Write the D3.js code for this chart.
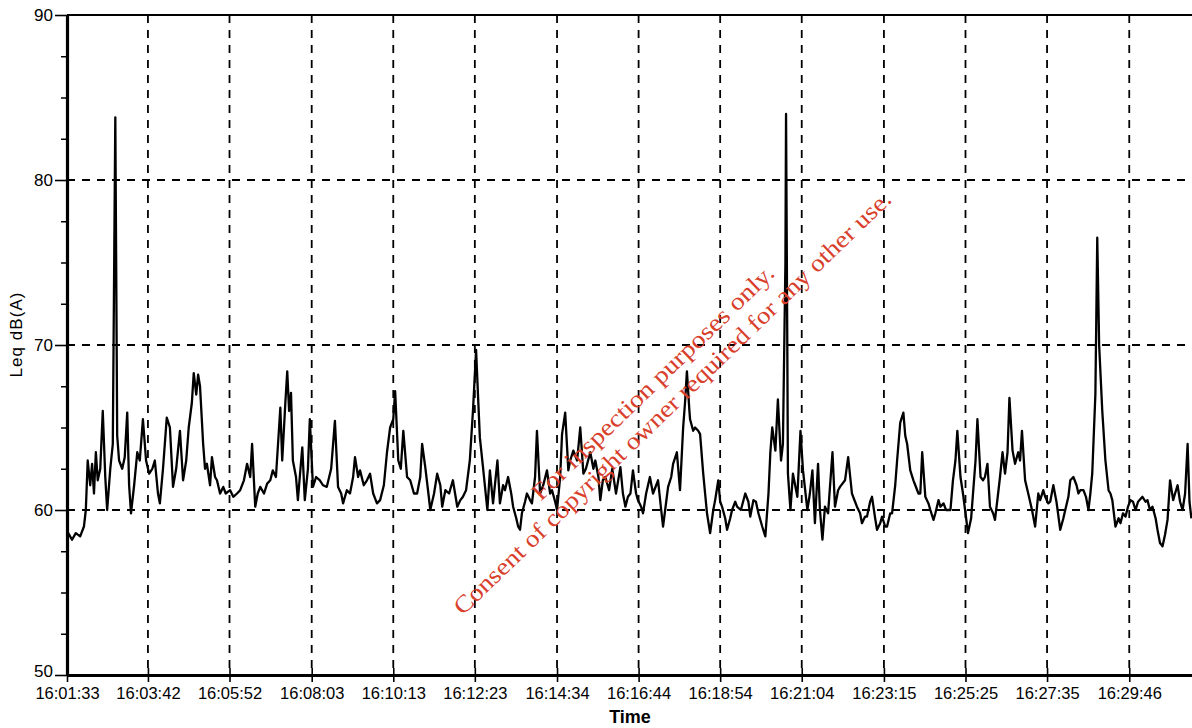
<!DOCTYPE html>
<html>
<head>
<meta charset="utf-8">
<script src="https://cdn.jsdelivr.net/npm/d3@7"></script>
<style>
  html, body { margin: 0; padding: 0; background: #fff; }
  svg { display: block; }
</style>
</head>
<body>
<svg id="chart" width="1192" height="728"></svg>
<script>
// ---- DATA (elapsed seconds since 16:01:33, Leq dB(A)) ----
const tickSeconds = [0, 129, 259, 390, 520, 650, 781, 911, 1041, 1171, 1302, 1432, 1562, 1693];
const tickLabels = ["16:01:33", "16:03:42", "16:05:52", "16:08:03", "16:10:13", "16:12:23", "16:14:34",
                    "16:16:44", "16:18:54", "16:21:04", "16:23:15", "16:25:25", "16:27:35", "16:29:46"];
const yMajorTicks = [50, 60, 70, 80, 90];
const yMinorTicks = [52.5, 55, 57.5, 62.5, 65, 67.5, 72.5, 75, 77.5, 82.5, 85, 87.5];
const yGridValues = [60, 70, 80];
const leqReadings = [
[2,58.6],[8,58.2],[14,58.6],[21,58.4],[27,59.0],[30,60.0],[33,63.0],[37,61.5],[40,62.8],[43,61.0],
[46,63.5],[49,61.8],[53,62.5],[57,66.0],[61,62.0],[64,60.0],[69,62.5],[73,64.0],[77,83.8],[80,64.5],
[83,63.0],[88,62.5],[92,63.2],[96,65.9],[99,61.5],[102,59.8],[107,61.5],[112,63.5],[116,63.0],[121,65.5],
[126,63.0],[131,62.2],[136,62.5],[140,63.0],[145,61.0],[148,60.4],[153,62.5],[159,65.6],[164,65.0],[169,61.4],
[174,62.5],[180,64.8],[185,61.8],[190,63.0],[194,65.0],[199,66.5],[202,68.3],[206,67.0],[209,68.2],[212,67.5],
[217,64.0],[220,62.5],[223,62.8],[228,61.5],[231,63.2],[236,62.0],[239,61.8],[244,61.0],[249,61.4],[253,61.0],
[260,61.2],[265,60.8],[271,61.0],[276,61.2],[282,61.8],[287,62.8],[292,62.0],[295,64.0],[300,60.2],[304,61.0],
[308,61.4],[314,61.0],[319,61.6],[324,61.8],[328,62.4],[333,62.0],[340,66.2],[343,63.0],[348,66.5],[351,68.4],
[354,66.0],[357,67.1],[360,63.0],[365,62.0],[368,60.6],[371,62.0],[375,63.8],[379,60.6],[384,62.5],[387,65.5],
[392,61.4],[397,62.0],[403,61.8],[408,61.5],[414,61.4],[421,62.5],[427,65.4],[432,61.4],[437,61.0],[440,60.4],
[446,61.2],[451,61.0],[456,62.0],[459,63.2],[464,62.0],[467,62.4],[473,61.5],[478,61.8],[483,62.2],[488,61.0],
[494,60.4],[499,60.6],[505,61.5],[510,63.5],[515,65.0],[520,65.5],[523,67.2],[528,63.0],[532,62.5],[536,64.8],
[542,62.0],[547,61.8],[553,61.0],[558,61.0],[563,62.0],[566,64.0],[571,62.6],[576,61.0],[579,60.0],[585,61.0],
[590,62.2],[595,61.5],[598,60.2],[603,61.2],[609,61.0],[615,61.8],[622,60.2],[627,60.6],[631,60.8],[636,61.2],
[642,63.0],[647,66.0],[652,69.7],[655,67.0],[658,64.4],[663,62.6],[670,60.0],[674,62.4],[679,60.4],[686,63.0],
[690,60.4],[695,61.5],[698,61.2],[703,62.0],[708,61.0],[711,60.2],[716,59.5],[719,59.0],[722,58.8],[725,59.8],
[730,60.5],[733,61.0],[738,60.6],[741,60.4],[746,62.0],[749,64.8],[754,61.0],[759,61.5],[765,62.4],[770,61.0],
[773,61.2],[778,60.5],[781,60.0],[786,62.0],[789,64.6],[794,65.9],[799,62.4],[802,63.0],[807,63.6],[813,63.0],
[818,65.0],[823,62.2],[827,62.5],[834,63.5],[839,62.5],[842,63.0],[847,62.0],[850,60.6],[854,61.8],[858,62.0],
[864,61.2],[869,62.5],[875,61.0],[882,62.6],[886,61.0],[890,60.2],[894,60.8],[898,61.0],[902,62.4],[907,61.0],
[910,60.6],[915,60.2],[918,59.8],[923,61.0],[929,62.0],[934,61.0],[939,61.5],[942,61.8],[947,60.0],[950,59.0],
[955,60.5],[958,61.4],[963,62.0],[966,62.8],[972,63.5],[977,61.2],[982,65.0],[985,66.5],[988,68.4],[992,66.0],
[993,65.5],[998,64.8],[1001,65.0],[1006,64.8],[1009,64.6],[1014,62.2],[1017,61.0],[1020,59.8],[1025,58.6],[1030,60.0],
[1033,60.6],[1038,61.8],[1041,60.5],[1044,60.2],[1049,59.5],[1052,58.8],[1057,59.5],[1060,60.0],[1065,60.5],[1068,60.2],
[1074,60.0],[1081,61.0],[1086,60.5],[1089,59.6],[1094,60.6],[1098,60.5],[1102,59.8],[1108,59.0],[1113,58.4],[1118,61.0],
[1121,63.5],[1124,65.0],[1129,63.6],[1133,66.7],[1138,63.0],[1141,64.0],[1145,75.0],[1146,84.0],[1148,70.0],[1149,62.2],
[1153,60.0],[1157,62.2],[1164,60.8],[1169,64.8],[1173,62.4],[1180,60.0],[1184,61.0],[1188,62.4],[1192,59.2],[1197,62.8],
[1200,60.0],[1204,58.2],[1208,60.2],[1213,59.8],[1220,63.5],[1224,60.2],[1229,61.2],[1232,61.4],[1240,61.8],[1245,63.2],
[1251,61.0],[1256,60.5],[1259,60.2],[1264,59.8],[1267,59.2],[1272,59.6],[1275,59.6],[1280,60.5],[1283,60.8],[1288,59.5],
[1291,58.8],[1296,59.2],[1299,59.6],[1304,59.0],[1307,59.0],[1312,59.8],[1315,59.8],[1320,61.5],[1323,63.0],[1328,65.3],
[1333,65.9],[1336,64.5],[1339,64.0],[1344,62.4],[1349,61.8],[1352,61.5],[1357,61.0],[1360,61.0],[1363,63.5],[1368,60.8],
[1373,60.4],[1376,60.0],[1381,59.4],[1384,59.8],[1389,60.6],[1392,60.2],[1397,60.4],[1401,60.0],[1408,60.0],[1412,61.8],
[1416,63.0],[1419,64.8],[1424,62.0],[1428,61.0],[1433,59.5],[1436,58.6],[1441,59.5],[1444,61.0],[1448,63.0],[1451,65.5],
[1456,62.0],[1460,61.8],[1463,62.0],[1467,62.8],[1471,60.2],[1476,59.8],[1479,59.4],[1484,61.0],[1487,62.0],[1491,63.5],
[1495,62.2],[1499,63.5],[1502,66.8],[1507,63.6],[1511,62.8],[1516,63.5],[1519,63.0],[1522,64.8],[1527,61.8],[1532,61.0],
[1535,60.5],[1538,60.0],[1543,59.0],[1548,61.0],[1551,60.6],[1556,61.2],[1559,60.8],[1564,60.4],[1567,60.5],[1572,61.5],
[1577,60.5],[1583,58.8],[1588,59.5],[1591,60.0],[1596,60.8],[1599,61.8],[1604,62.0],[1609,61.5],[1612,61.0],[1615,61.2],
[1620,61.2],[1624,60.8],[1628,60.0],[1631,61.0],[1634,62.2],[1639,67.0],[1642,76.5],[1645,70.0],[1650,66.0],[1655,63.0],
[1660,61.2],[1663,61.0],[1666,60.6],[1671,59.0],[1676,59.5],[1679,59.2],[1683,59.8],[1687,59.6],[1691,60.2],[1695,60.6],
[1699,60.5],[1703,60.0],[1707,60.5],[1714,60.8],[1719,60.5],[1722,60.6],[1726,60.0],[1730,60.2],[1735,59.5],[1738,58.8],
[1742,58.0],[1746,57.8],[1750,58.5],[1754,59.4],[1758,61.8],[1763,60.6],[1766,61.0],[1770,61.5],[1774,60.5],[1778,60.0],
[1782,61.0],[1786,64.0],[1789,60.5],[1792,59.5]
];
const yTitle = "Leq dB(A)";
const xTitle = "Time";
const watermarkLines = ["For inspection purposes only.", "Consent of copyright owner required for any other use."];

// ---- CHART ----
const svg = d3.select("#chart");
const plotLeft = 67, plotRight = 1192, plotTop = 15, plotBottom = 675;
const x = d3.scaleLinear().domain([0, 1793]).range([plotLeft, plotRight]);
const y = d3.scaleLinear().domain([50, 90]).range([plotBottom, plotTop]);
const axisFont = "'Liberation Sans', Arial, Helvetica, sans-serif";

// grid
const grid = svg.append("g").attr("stroke", "#000").attr("stroke-width", 1.8)
  .attr("stroke-dasharray", "8,7").attr("fill", "none");
grid.selectAll("line.h").data(yGridValues).join("line").attr("class", "h")
  .attr("x1", plotLeft).attr("x2", plotRight).attr("y1", d => y(d)).attr("y2", d => y(d));
grid.selectAll("line.v").data(tickSeconds.slice(1)).join("line").attr("class", "v")
  .attr("x1", d => x(d)).attr("x2", d => x(d)).attr("y1", plotTop).attr("y2", plotBottom);

// top border
svg.append("line").attr("x1", plotLeft).attr("x2", plotRight).attr("y1", plotTop).attr("y2", plotTop)
  .attr("stroke", "#000").attr("stroke-width", 2.2);

// data line
const line = d3.line().x(d => x(d[0])).y(d => y(d[1]));
svg.append("path").datum(leqReadings).attr("d", line)
  .attr("fill", "none").attr("stroke", "#000").attr("stroke-width", 2.3)
  .attr("stroke-linejoin", "round");

// y axis minor
svg.append("g").attr("transform", `translate(${plotLeft},0)`)
  .call(d3.axisLeft(y).tickValues(yMinorTicks).tickSize(6).tickFormat(""))
  .call(g => g.select(".domain").remove())
  .call(g => g.selectAll(".tick line").attr("stroke-width", 1.5));

// y axis major
svg.append("g").attr("transform", `translate(${plotLeft},0)`)
  .call(d3.axisLeft(y).tickValues(yMajorTicks).tickSizeInner(12).tickSizeOuter(0).tickPadding(2))
  .call(g => g.select(".domain").attr("stroke-width", 3.2))
  .call(g => g.selectAll(".tick line").attr("stroke-width", 1.6))
  .call(g => g.selectAll(".tick text").attr("font-family", axisFont).attr("font-size", 17).attr("fill", "#000")
    .attr("dy", d => d === 50 ? "0.1em" : "0.32em"));

// x axis
svg.append("g").attr("transform", `translate(0,${plotBottom})`)
  .call(d3.axisBottom(x).tickValues(tickSeconds).tickFormat((d, i) => tickLabels[i])
        .tickSizeInner(7).tickSizeOuter(0).tickPadding(5))
  .call(g => g.select(".domain").attr("stroke-width", 3.2))
  .call(g => g.selectAll(".tick line").attr("y1", -7).attr("stroke-width", 1.6))
  .call(g => g.selectAll(".tick text").attr("font-family", axisFont).attr("font-size", 16.5).attr("fill", "#000"));

// axis titles
svg.append("text").attr("transform", "translate(22,335) rotate(-90)")
  .attr("text-anchor", "middle").attr("font-family", axisFont).attr("font-size", 17)
  .attr("textLength", 85).attr("lengthAdjust", "spacing").text(yTitle);
svg.append("text").attr("x", 630).attr("y", 723).attr("text-anchor", "middle")
  .attr("font-family", axisFont).attr("font-size", 18).attr("font-weight", "bold").text(xTitle);

// watermark
const wm = svg.append("g").attr("transform", "translate(664,394) rotate(-44)")
  .attr("fill", "#d9402c").attr("font-family", "'Liberation Serif', 'Times New Roman', serif")
  .attr("font-size", 24).attr("text-anchor", "middle");
wm.append("text").attr("y", -8).attr("textLength", 327).attr("lengthAdjust", "spacingAndGlyphs").text(watermarkLines[0]);
wm.append("text").attr("y", 20).attr("textLength", 598).attr("lengthAdjust", "spacingAndGlyphs").text(watermarkLines[1]);
</script>
</body>
</html>
